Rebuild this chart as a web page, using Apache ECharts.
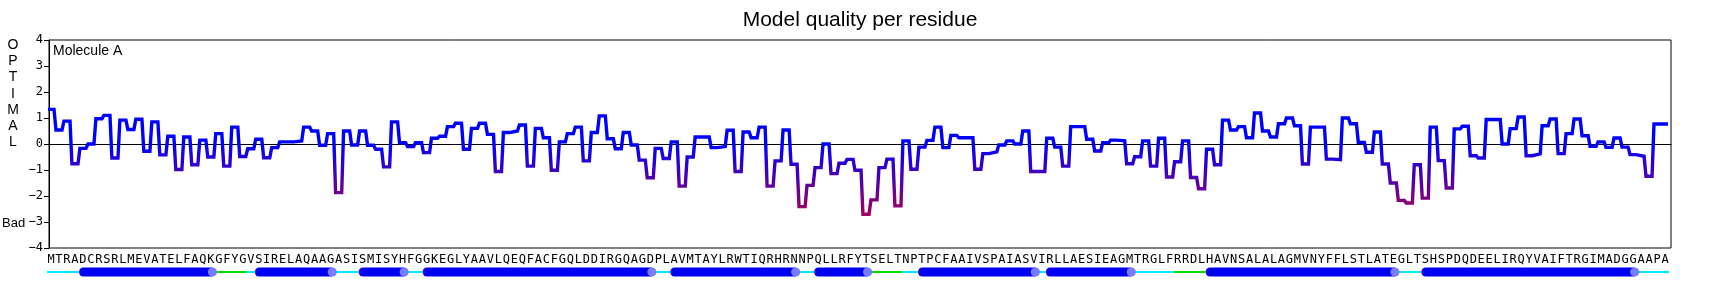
<!DOCTYPE html>
<html><head><meta charset="utf-8">
<script src="https://cdn.jsdelivr.net/npm/echarts@6/dist/echarts.min.js"></script>
<style>html,body{margin:0;padding:0;background:#fff}#c{width:1720px;height:288px}</style>
</head><body><div id="c"></div>
<script>
const chartTitle = 'Model quality per residue';
const moleculeLabel = 'Molecule A';
const sideLabelTop = 'O\nP\nT\nI\nM\nA\nL';
const sideLabelBottom = 'Bad';
const sequence = ('MTRADCRSRLMEVATELFAQKGFYGVSIRELAQAAGASISMISYHFGGKE' +
  'GLYAAVLQEQFACFGQLDDIRGQAGDPLAVMTAYLRWTIQRHRNNPQLLR' +
  'FYTSELTNPTPCFAAIVSPAIASVIRLLAESIEAGMTRGLFRRDLHAVNS' +
  'ALALAGMVNYFFLSTLATEGLTSHSPDQDEELIRQYVAIFTRGIMADGGAAPA').split('');
const scores = [
  1.33, 0.54, 0.88, -0.76, -0.17, 0.0, 0.97, 1.1, -0.54, 0.92,
  0.56, 0.95, -0.28, 0.85, -0.42, 0.3, -0.98, 0.27, -0.8, 0.15,
  -0.5, 0.4, -0.85, 0.65, -0.48, -0.18, 0.18, -0.53, -0.14, 0.08,
  0.08, 0.12, 0.65, 0.5, -0.05, 0.4, -1.87, 0.5, -0.04, 0.5,
  -0.05, -0.2, -0.88, 0.85, 0.05, -0.1, 0.05, -0.33, 0.22, 0.3,
  0.67, 0.8, -0.2, 0.6, 0.8, 0.37, -1.06, 0.44, 0.5, 0.73,
  -0.85, 0.6, 0.24, -1.01, 0.08, 0.4, 0.65, -0.65, 0.44, 1.08,
  0.2, -0.18, 0.44, -0.04, -0.62, -1.3, -0.17, -0.56, 0.08, -1.62,
  -0.5, 0.27, 0.27, -0.14, -0.1, 0.53, -1.06, 0.46, 0.24, 0.65,
  -1.62, -0.65, 0.54, -0.78, -2.41, -1.59, -0.91, 0.0, -1.14, -0.74,
  -0.59, -1.01, -2.7, -2.15, -0.91, -0.58, -2.38, 0.12, -0.97, -0.12,
  0.14, 0.65, -0.14, 0.33, 0.24, 0.24, -0.97, -0.37, -0.3, -0.04,
  0.12, 0.0, 0.5, -1.06, -1.06, 0.22, -0.12, -0.85, 0.67, 0.67,
  0.18, -0.27, 0.05, 0.15, 0.12, -0.76, -0.49, 0.12, -0.85, 0.22,
  -1.27, -0.68, 0.12, -1.29, -1.72, -0.2, -0.8, 0.92, 0.54, 0.67,
  0.24, 1.19, 0.5, 0.27, 0.78, 1.0, 0.7, -0.77, 0.65, 0.65,
  -0.58, -0.6, 1.0, 0.78, 0.06, -0.32, 0.46, -0.77, -1.5, -2.17,
  -2.27, -0.8, -2.08, 0.65, -0.64, -1.69, 0.58, 0.68, -0.45, -0.54,
  0.94, 0.94, 0.0, 0.59, 1.04, -0.45, -0.38, 0.7, 0.96, -0.37,
  0.4, 0.96, 0.32, -0.09, 0.08, -0.13, 0.23, -0.12, -0.41, -0.47,
  -1.24, 0.77, 0.77
];
// secondary structure (0-based residue indices, inclusive)
const ssStart = [0, 4, 21, 25, 26, 36, 39, 45, 47, 76, 78, 94, 96, 103, 107, 109, 124, 125, 136, 141, 145, 169, 172, 199];
const ssEnd   = [3, 20, 24, 25, 35, 38, 44, 46, 75, 77, 93, 95, 102, 106, 108, 123, 124, 135, 140, 144, 168, 171, 198, 202];
const ssType  = ['coil','helix','turn','coil','helix','coil','helix','coil','helix','coil','helix','coil','helix','turn','coil','helix','coil','helix','coil','turn','helix','coil','helix','coil'];
const yTicks = [-4, -3, -2, -1, 0, 1, 2, 3, 4];

const lineData = [];
scores.forEach((v, i) => { lineData.push([i + 0.12, v]); lineData.push([i + 0.88, v]); });
const ssData = ssStart.map((s, k) => [s, ssEnd[k] + 1, 0.5]);

const chart = echarts.init(document.getElementById('c'), null, {renderer: 'canvas'});
const mono = 'DejaVu Sans Mono';
const sans = 'Liberation Sans';
chart.setOption({
  animation: false,
  backgroundColor: '#fff',
  title: {
    text: chartTitle, left: 'center', top: 5,
    textStyle: {fontFamily: sans, fontSize: 21, fontWeight: 'normal', color: '#000'}
  },
  grid: [
    {left: 49, right: 49, top: 40, bottom: 40, show: true, borderColor: '#000', borderWidth: 1, backgroundColor: 'transparent'},
    {left: 47, right: 51, top: 40, bottom: 40, show: false},
    {left: 49, right: 49, top: 266, height: 12, show: false}
  ],
  xAxis: [
    {type: 'value', gridIndex: 0, min: 0.25, max: 203.25, axisLine: {show: true, onZero: true, lineStyle: {color: '#000', width: 1}},
     axisTick: {show: false}, axisLabel: {show: false}, splitLine: {show: false}},
    {type: 'category', gridIndex: 1, data: sequence, boundaryGap: true, position: 'bottom',
     axisLine: {show: false}, axisTick: {show: false},
     axisLabel: {interval: 0, margin: 6, fontFamily: mono, fontSize: 12, color: '#000'}, splitLine: {show: false}},
    {type: 'value', gridIndex: 2, min: 0.25, max: 203.25, show: false}
  ],
  yAxis: [
    {type: 'value', gridIndex: 0, min: yTicks[0], max: yTicks[yTicks.length - 1], interval: 1,
     axisLine: {show: true, lineStyle: {color: '#000'}},
     axisTick: {show: true, length: 5, lineStyle: {color: '#000'}},
     axisLabel: {margin: 6, fontFamily: mono, fontSize: 12, color: '#000',
       formatter: v => (v < 0 ? '\u2212' + Math.abs(v) : String(v))},
     splitLine: {show: false}},
    {type: 'value', gridIndex: 1, min: 0, max: 1, show: false},
    {type: 'value', gridIndex: 2, min: 0, max: 1, show: false}
  ],
  visualMap: {
    show: false, type: 'continuous', seriesIndex: 0, dimension: 1, min: -4, max: 4,
    inRange: {color: ['#f00010', '#0000ff', '#0000ff']}
  },
  series: [
    {type: 'line', xAxisIndex: 0, yAxisIndex: 0, data: lineData, symbol: 'none', clip: false, silent: true,
     lineStyle: {width: 3.4, join: 'miter'}, z: 3},
    {type: 'custom', xAxisIndex: 2, yAxisIndex: 2, data: ssData, silent: true, clip: false,
     encode: {x: [0, 1], y: 2},
     renderItem: function (params, api) {
       const k = params.dataIndex;
       const s = ssStart[k], e = ssEnd[k], t = ssType[k];
       const y = api.coord([s, 0.5])[1];
       if (t === 'helix') {
         const x0 = api.coord([s, 0.5])[0];
         const x1 = api.coord([e + 0.7, 0.5])[0];
         return {type: 'group', children: [
           {type: 'rect', z2: 10, shape: {x: x0, y: y - 4.5, width: x1 - x0, height: 9, r: [4.5, 0, 0, 4.5]}, style: {fill: '#0000f0'}},
           {type: 'circle', z2: 11, shape: {cx: x1, cy: y, r: 4.6}, style: {fill: '#7b7bff'}}
         ]};
       }
       const xa = api.coord([s, 0.5])[0], xb = api.coord([e + 1, 0.5])[0];
       return {type: 'line', z2: 1, shape: {x1: xa, y1: y, x2: xb, y2: y},
         style: {stroke: t === 'turn' ? '#00dd00' : '#00eaff', lineWidth: 2}};
     }}
  ],
  graphic: [
    {type: 'text', x: 13, y: 37, style: {text: sideLabelTop, fontFamily: sans, fontSize: 14, lineHeight: 16.2, fill: '#000', textAlign: 'center', textVerticalAlign: 'top'}},
    {type: 'text', x: 2, y: 223, style: {text: sideLabelBottom, fontFamily: sans, fontSize: 13, fill: '#000', textAlign: 'left', textVerticalAlign: 'middle'}},
    {type: 'text', x: 53, y: 51, z: 5, style: {text: moleculeLabel, fontFamily: sans, fontSize: 14, fill: '#000', textAlign: 'left', textVerticalAlign: 'middle'}}
  ]
});
</script></body></html>
